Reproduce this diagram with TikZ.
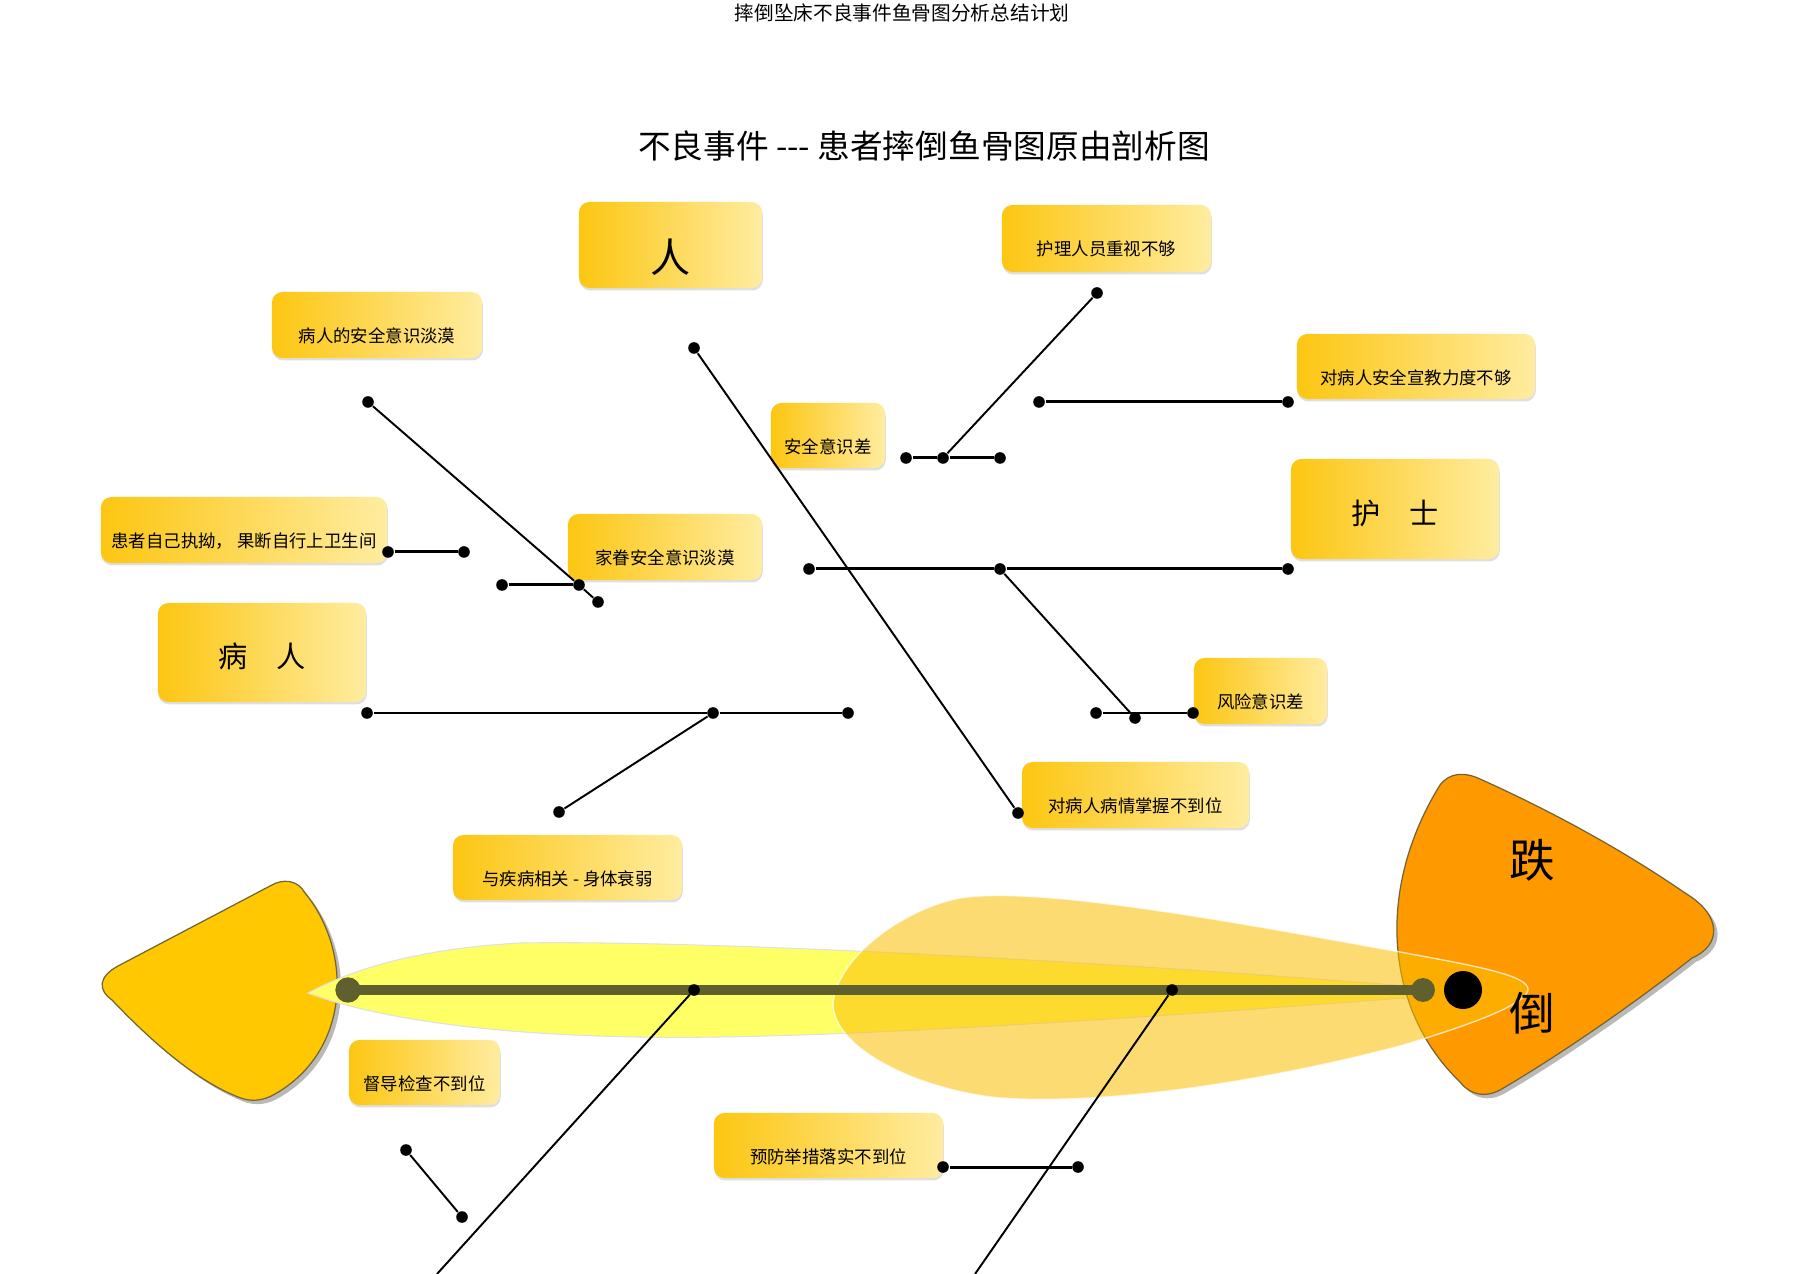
\documentclass[tikz,border=0pt]{standalone}
\usepackage{fontspec}
\newfontfamily\cjk{Noto Sans CJK SC}
\usepackage{tikz}
\usetikzlibrary{shadows}

\definecolor{boxgold}{RGB}{252,198,18}
\definecolor{boxpale}{RGB}{255,236,160}
\definecolor{tailgold}{RGB}{255,200,0}
\definecolor{headorange}{RGB}{255,153,0}
\definecolor{bodyyellow}{RGB}{255,255,102}
\definecolor{finamber}{RGB}{250,190,0}
\definecolor{spineolive}{RGB}{96,96,46}
\definecolor{rimbrown}{RGB}{115,100,50}

\begin{document}
\begin{tikzpicture}[x=0.01cm, y=-0.01cm]
\tikzset{
	cause node/.style = {rounded corners=3pt, left color=boxgold, right color=boxpale, inner sep=0pt,
		drop shadow={opacity=0.25, shadow xshift=0.2pt, shadow yshift=-0.7pt},
		font=\cjk\fontsize{4.95pt}{6pt}\selectfont, text height=0.35cm, text depth=0pt},
	group node/.style = {cause node, font=\cjk\fontsize{8.3pt}{10pt}\selectfont, text height=0.3cm},
	solid dot/.style = {circle, fill=black, inner sep=0pt, minimum size=3.3pt},
	joint/.style = {circle, fill=spineolive, inner sep=0pt, minimum size=7.2pt},
	bone/.style = {line width=0.85pt},
	twig/.style = {line width=0.55pt},
	fish part/.style = {draw=rimbrown, line width=0.35pt,
		drop shadow={opacity=0.55, shadow xshift=1.1pt, shadow yshift=-1.1pt}},
}
\fill[white] (0,0) rectangle (1804,1274);
\useasboundingbox (0,0) rectangle (1804,1274);

\node[font=\cjk\fontsize{5.6pt}{7pt}\selectfont] (header) at (902,13) {摔倒坠床不良事件鱼骨图分析总结计划};
\node[font=\cjk\fontsize{9.3pt}{11pt}\selectfont] (title) at (924,146) {不良事件 --- 患者摔倒鱼骨图原由剖析图};

% fish
\filldraw[fish part, fill=tailgold] (270,886) -- (118,966)
	.. controls (98,977) and (98,990) .. (112,1000)
	.. controls (150,1040) and (195,1080) .. (238,1097)
	.. controls (252,1103) and (265,1100) .. (275,1094)
	.. controls (352,1050) and (352,950) .. (305,893)
	.. controls (298,880) and (283,878) .. (270,886) -- cycle;
\filldraw[fill=bodyyellow, draw=black!12, line width=0.3pt] (308,993)
	.. controls (360,965) and (430,948) .. (520,943)
	.. controls (700,940) and (1100,960) .. (1480,992)
	.. controls (1100,1022) and (800,1040) .. (640,1037)
	.. controls (500,1035) and (380,1020) .. (308,993) -- cycle;
\filldraw[fish part, fill=headorange] (1480,779)
	.. controls (1560,815) and (1630,855) .. (1685,893)
	.. controls (1722,915) and (1722,945) .. (1692,958)
	.. controls (1635,1003) and (1560,1055) .. (1500,1090)
	.. controls (1485,1098) and (1470,1095) .. (1460,1082)
	.. controls (1385,1010) and (1375,890) .. (1440,785)
	.. controls (1450,772) and (1465,772) .. (1480,779) -- cycle;
\filldraw[fill=finamber, fill opacity=0.55, draw=white, draw opacity=0.7, line width=0.4pt] (833,1005)
	.. controls (835,960) and (900,910) .. (960,898)
	.. controls (1040,885) and (1250,925) .. (1400,952)
	.. controls (1470,965) and (1530,975) .. (1528,990)
	.. controls (1525,1005) and (1470,1025) .. (1400,1046)
	.. controls (1250,1085) and (1100,1105) .. (1000,1098)
	.. controls (920,1090) and (835,1050) .. (833,1005) -- cycle;

\node[joint] (tail joint) at (348,990) {};
\node[joint, minimum size=6.8pt] (head joint) at (1423,990) {};
\node[circle, fill=black, inner sep=0pt, minimum size=10.8pt] (eye) at (1463,990) {};
\draw[spineolive, line width=2.85pt] (tail joint.center) -- (head joint.center);

\node[font=\cjk\fontsize{13pt}{15pt}\selectfont] (die) at (1532,860) {跌};
\node[font=\cjk\fontsize{13pt}{15pt}\selectfont] (dao) at (1532,1013) {倒};

% boxes
\node[group node, minimum width=1.83cm, minimum height=0.86cm, font=\cjk\fontsize{11.4pt}{13pt}\selectfont, text height=0.54cm] (ren) at (670.5,245) {人};
\node[cause node, minimum width=2.10cm, minimum height=0.66cm] (patient unaware) at (377,325) {病人的安全意识淡漠};
\node[cause node, minimum width=2.86cm, minimum height=0.66cm] (patient stubborn) at (244,530) {患者自己执拗， 果断自行上卫生间};
\node[cause node, minimum width=1.94cm, minimum height=0.66cm] (family unaware) at (665,547) {家眷安全意识淡漠};
\node[group node, minimum width=2.08cm, minimum height=0.99cm] (patient) at (262,652.5) {病　人};
\node[cause node, minimum width=1.14cm, minimum height=0.65cm] (weak awareness) at (828,435.5) {安全意识差};
\node[cause node, minimum width=2.09cm, minimum height=0.67cm] (staff neglect) at (1106.5,238.5) {护理人员重视不够};
\node[cause node, minimum width=2.38cm, minimum height=0.65cm] (poor education) at (1416,366.5) {对病人安全宣教力度不够};
\node[group node, minimum width=2.08cm, minimum height=1.00cm] (nurse) at (1395,509) {护　士};
\node[cause node, minimum width=1.33cm, minimum height=0.66cm] (risk awareness) at (1260.5,691) {风险意识差};
\node[cause node, minimum width=2.27cm, minimum height=0.66cm] (condition unknown) at (1135.5,795) {对病人病情掌握不到位};
\node[cause node, minimum width=2.29cm, minimum height=0.65cm] (illness) at (567.5,867.5) {与疾病相关 - 身体衰弱};
\node[cause node, minimum width=1.51cm, minimum height=0.65cm] (supervision) at (424.5,1072.5) {督导检查不到位};
\node[cause node, minimum width=2.29cm, minimum height=0.65cm] (prevention) at (828.5,1145.5) {预防举措落实不到位};

% bones
\node[solid dot] (p1) at (694,348) {};
\node[solid dot] (p2) at (1018,813) {};
\node[solid dot] (u1) at (368,402) {};
\node[solid dot] (u2) at (579,585) {};
\node[solid dot] (u3) at (598,602) {};
\node[solid dot] (u4) at (502,585) {};
\node[solid dot] (s1) at (388,552) {};
\node[solid dot] (s2) at (464,552) {};
\node[solid dot] (h1) at (367,713) {};
\node[solid dot] (h2) at (713,713) {};
\node[solid dot] (h3) at (848,713) {};
\node[solid dot] (h4) at (559,812) {};
\node[solid dot] (n1) at (1097,293) {};
\node[solid dot] (n2) at (943,458) {};
\node[solid dot] (n3) at (906,458) {};
\node[solid dot] (n4) at (1000,458) {};
\node[solid dot] (e1) at (1039,402) {};
\node[solid dot] (e2) at (1288,402) {};
\node[solid dot] (r1) at (809,569) {};
\node[solid dot] (r2) at (1000,569) {};
\node[solid dot] (r3) at (1288,569) {};
\node[solid dot] (r4) at (1135,718) {};
\node[solid dot] (r5) at (1096,713) {};
\node[solid dot] (r6) at (1193,713) {};
\node[solid dot] (l1) at (406,1150) {};
\node[solid dot] (l2) at (462,1217) {};
\node[solid dot] (m1) at (943,1167) {};
\node[solid dot] (m2) at (1078,1167) {};
\node[solid dot] (spine a) at (694,990) {};
\node[solid dot] (spine b) at (1172,990) {};
\coordinate (bottom a) at (437,1274);
\coordinate (bottom b) at (975,1274);

\draw[twig] (p1) -- (p2);
\draw[twig] (u1) -- (u2) -- (u3);
\draw[bone] (u4) -- (u2);
\draw[bone] (s1) -- (s2);
\draw[bone] (h1) -- (h2) -- (h3);
\draw[twig] (h2) -- (h4);
\draw[twig] (n1) -- (n2);
\draw[bone] (n3) -- (n2) -- (n4);
\draw[bone] (e1) -- (e2);
\draw[bone] (r1) -- (r2) -- (r3);
\draw[twig] (r2) -- (r4);
\draw[bone] (r5) -- (r6);
\draw[twig] (l1) -- (l2);
\draw[bone] (m1) -- (m2);
\draw[twig] (spine a) -- (bottom a);
\draw[twig] (spine b) -- (bottom b);

\end{tikzpicture}
\end{document}
